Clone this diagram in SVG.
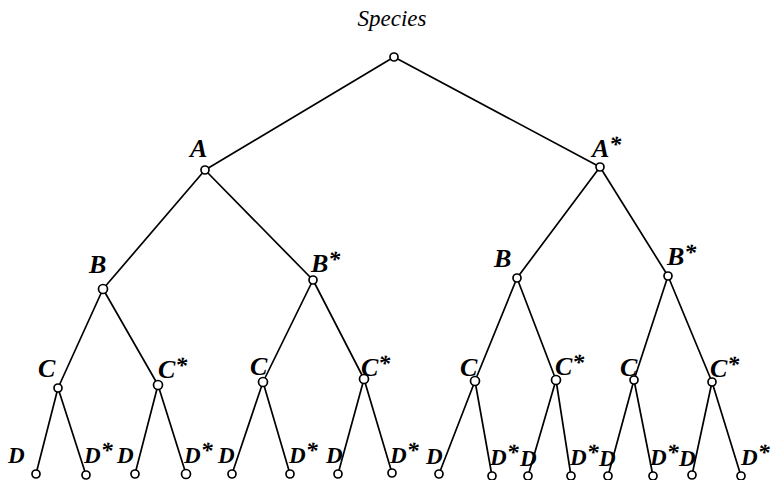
<svg xmlns="http://www.w3.org/2000/svg" width="779" height="480" viewBox="0 0 779 480">
<style>
.e{stroke:#000;stroke-width:1.7;fill:none}
.n{fill:#fff;stroke:#000;stroke-width:1.7}
.l{font-family:"Liberation Serif","DejaVu Serif",serif;font-style:italic;font-weight:bold;font-size:26px;fill:#000}
.d{font-size:23px}
.s{font-size:24px}
.t{font-family:"Liberation Serif","DejaVu Serif",serif;font-style:italic;font-size:23px;fill:#000}
</style>
<rect width="779" height="480" fill="#fff"/>
<text class="t" x="392" y="26" text-anchor="middle">Species</text>
<g id="connectors">
<path class="e" d="M394,57 L205,170 M394,57 L600,167
M205,170 L103,289 M205,170 L313,280 M600,167 L517,278 M600,167 L668,276
M103,289 L58,388 M103,289 L158,385 M313,280 L263,382 M313,280 L364,379
M517,278 L475,381 M517,278 L556,380 M668,276 L634,380 M668,276 L712,382
M58,388 L36,474 M58,388 L86,475 M158,385 L135,474 M158,385 L186,474
M263,382 L232,474 M263,382 L290,474 M364,379 L338,474 M364,379 L392,473
M475,381 L439,474 M475,381 L492,476 M556,380 L528,476 M556,380 L571,476
M634,380 L608,476 M634,380 L653,476 M712,382 L692,475 M712,382 L741,476"/>
</g>
<g id="root"><circle class="n" cx="394" cy="57" r="4"/></g>
<g id="A"><circle class="n" cx="205" cy="170" r="4"/><text class="l" x="190" y="157">A</text></g>
<g id="A-star"><circle class="n" cx="600" cy="167" r="4"/><text class="l" x="592" y="157">A<tspan class="s" dy="-5">*</tspan></text></g>
<g id="B1"><circle class="n" cx="103" cy="289" r="4.5"/><text class="l" x="89" y="273">B</text></g>
<g id="B1-star"><circle class="n" cx="313" cy="280" r="4"/><text class="l" x="311" y="272">B<tspan class="s" dy="-5">*</tspan></text></g>
<g id="B2"><circle class="n" cx="517" cy="278" r="4"/><text class="l" x="494" y="267">B</text></g>
<g id="B2-star"><circle class="n" cx="668" cy="276" r="4"/><text class="l" x="667" y="265">B<tspan class="s" dy="-5">*</tspan></text></g>
<g id="C1"><circle class="n" cx="58" cy="388" r="4"/><text class="l" x="38" y="377">C</text></g>
<g id="C1-star"><circle class="n" cx="158" cy="385" r="4.5"/><text class="l" x="158" y="378">C<tspan class="s" dy="-5">*</tspan></text></g>
<g id="C2"><circle class="n" cx="263" cy="382" r="4.5"/><text class="l" x="250" y="375">C</text></g>
<g id="C2-star"><circle class="n" cx="364" cy="379" r="4.5"/><text class="l" x="361" y="376">C<tspan class="s" dy="-5">*</tspan></text></g>
<g id="C3"><circle class="n" cx="475" cy="381" r="4.5"/><text class="l" x="460" y="376">C</text></g>
<g id="C3-star"><circle class="n" cx="556" cy="380" r="4.5"/><text class="l" x="555" y="375">C<tspan class="s" dy="-5">*</tspan></text></g>
<g id="C4"><circle class="n" cx="634" cy="380" r="4"/><text class="l" x="620" y="376">C</text></g>
<g id="C4-star"><circle class="n" cx="712" cy="382" r="4"/><text class="l" x="710" y="377">C<tspan class="s" dy="-5">*</tspan></text></g>
<g id="D1"><circle class="n" cx="36" cy="474" r="4"/><text class="l d" x="8" y="463">D</text></g>
<g id="D1-star"><circle class="n" cx="86" cy="475" r="4"/><text class="l d" x="84" y="463">D<tspan class="s" dy="-5">*</tspan></text></g>
<g id="D2"><circle class="n" cx="135" cy="474" r="4"/><text class="l d" x="117" y="463">D</text></g>
<g id="D2-star"><circle class="n" cx="186" cy="474" r="4.5"/><text class="l d" x="184" y="463">D<tspan class="s" dy="-5">*</tspan></text></g>
<g id="D3"><circle class="n" cx="232" cy="474" r="4"/><text class="l d" x="218" y="463">D</text></g>
<g id="D3-star"><circle class="n" cx="290" cy="474" r="4"/><text class="l d" x="289" y="463">D<tspan class="s" dy="-5">*</tspan></text></g>
<g id="D4"><circle class="n" cx="338" cy="474" r="4"/><text class="l d" x="326" y="463">D</text></g>
<g id="D4-star"><circle class="n" cx="392" cy="473" r="4"/><text class="l d" x="390" y="463">D<tspan class="s" dy="-5">*</tspan></text></g>
<g id="D5"><circle class="n" cx="439" cy="474" r="4"/><text class="l d" x="426" y="464">D</text></g>
<g id="D5-star"><circle class="n" cx="492" cy="476" r="4"/><text class="l d" x="490" y="465">D<tspan class="s" dy="-5">*</tspan></text></g>
<g id="D6"><circle class="n" cx="528" cy="476" r="4"/><text class="l d" x="520" y="466">D</text></g>
<g id="D6-star"><circle class="n" cx="571" cy="476" r="4"/><text class="l d" x="570" y="465">D<tspan class="s" dy="-5">*</tspan></text></g>
<g id="D7"><circle class="n" cx="608" cy="476" r="4"/><text class="l d" x="599" y="466">D</text></g>
<g id="D7-star"><circle class="n" cx="653" cy="476" r="4"/><text class="l d" x="650" y="465">D<tspan class="s" dy="-5">*</tspan></text></g>
<g id="D8"><circle class="n" cx="692" cy="475" r="4"/><text class="l d" x="679" y="466">D</text></g>
<g id="D8-star"><circle class="n" cx="741" cy="476" r="4"/><text class="l d" x="741" y="465">D<tspan class="s" dy="-5">*</tspan></text></g>
</svg>
